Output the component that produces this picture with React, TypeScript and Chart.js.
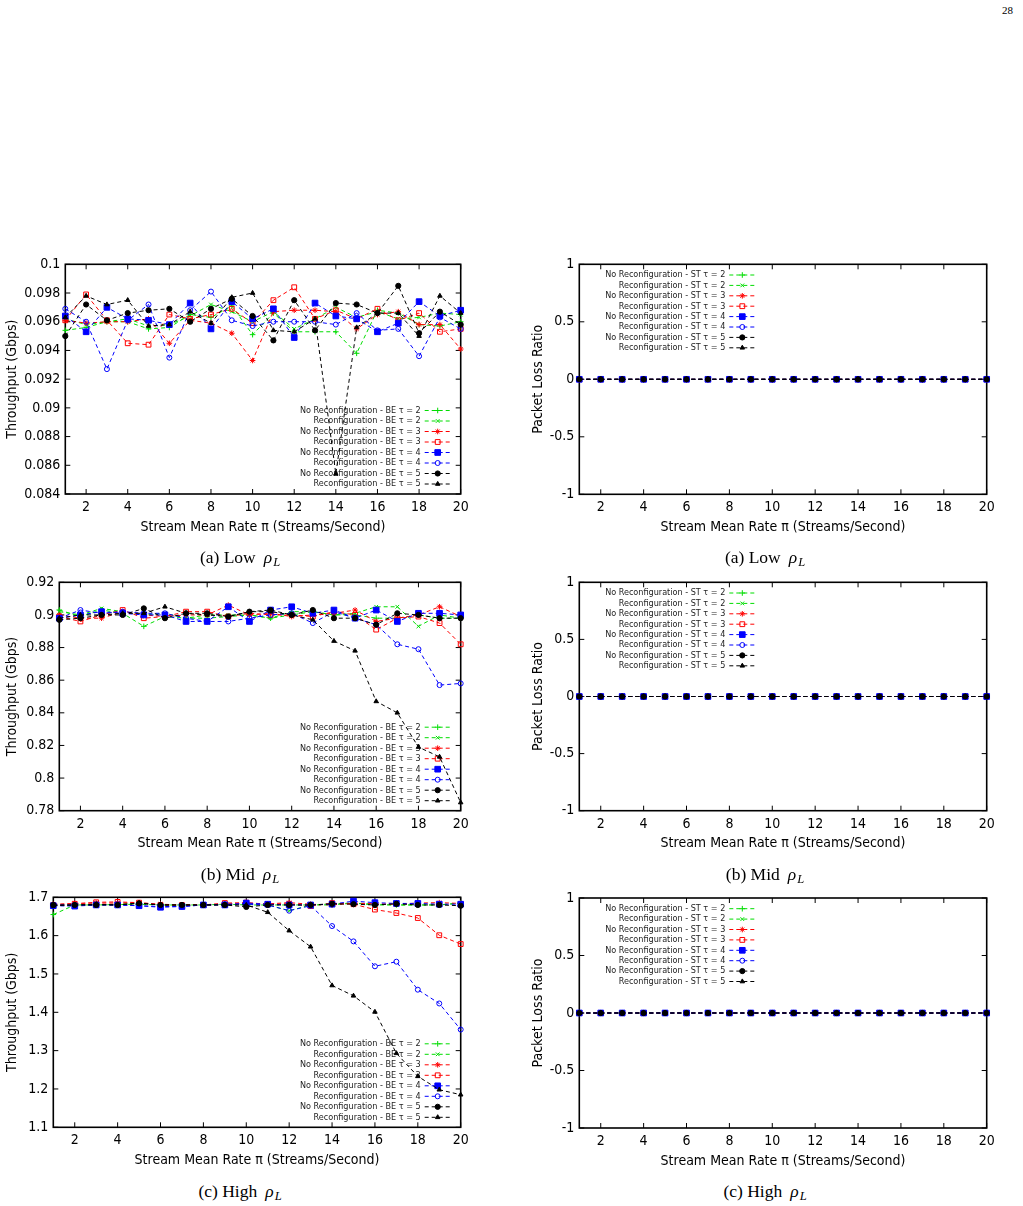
import React, { useEffect, useRef } from "react";
import { Chart, registerables } from "chart.js";
import { drawPoint } from "chart.js/helpers";

Chart.register(...registerables);

const FONT = "'DejaVu Sans Condensed', 'Liberation Sans', sans-serif";

// Stream mean rate (x axis)
const rates = [1, 2, 3, 4, 5, 6, 7, 8, 9, 10, 11, 12, 13, 14, 15, 16, 17, 18, 19, 20];
const xTickValues = [2, 4, 6, 8, 10, 12, 14, 16, 18, 20];
const xTickLabels = ["2", "4", "6", "8", "10", "12", "14", "16", "18", "20"];

// Y axis ticks
const lowYTicks = [0.084, 0.086, 0.088, 0.09, 0.092, 0.094, 0.096, 0.098, 0.1];
const lowYLabels = ["0.084", "0.086", "0.088", "0.09", "0.092", "0.094", "0.096", "0.098", "0.1"];
const midYTicks = [0.78, 0.8, 0.82, 0.84, 0.86, 0.88, 0.9, 0.92];
const midYLabels = ["0.78", "0.8", "0.82", "0.84", "0.86", "0.88", "0.9", "0.92"];
const highYTicks = [1.1, 1.2, 1.3, 1.4, 1.5, 1.6, 1.7];
const highYLabels = ["1.1", "1.2", "1.3", "1.4", "1.5", "1.6", "1.7"];
const lossYTicks = [-1, -0.5, 0, 0.5, 1];
const lossYLabels = ["-1", "-0.5", "0", "0.5", "1"];

// Series names
const beNames = [
  "No Reconfiguration - BE τ = 2",
  "Reconfiguration - BE τ = 2",
  "No Reconfiguration - BE τ = 3",
  "Reconfiguration - BE τ = 3",
  "No Reconfiguration - BE τ = 4",
  "Reconfiguration - BE τ = 4",
  "No Reconfiguration - BE τ = 5",
  "Reconfiguration - BE τ = 5",
];
const stNames = [
  "No Reconfiguration - ST τ = 2",
  "Reconfiguration - ST τ = 2",
  "No Reconfiguration - ST τ = 3",
  "Reconfiguration - ST τ = 3",
  "No Reconfiguration - ST τ = 4",
  "Reconfiguration - ST τ = 4",
  "No Reconfiguration - ST τ = 5",
  "Reconfiguration - ST τ = 5",
];

// Best-effort throughput (Gbps), low load
const lowNoReconf2 = [0.0954, 0.0956, 0.0960, 0.0960, 0.0955, 0.0956, 0.0965, 0.0963, 0.0971, 0.0951, 0.0966, 0.0953, 0.0953, 0.0953, 0.0938, 0.0968, 0.0966, 0.0958, 0.0957, 0.0960];
const lowReconf2 = [0.0962, 0.0958, 0.0960, 0.0962, 0.0957, 0.0958, 0.0964, 0.0972, 0.0967, 0.0960, 0.0967, 0.0955, 0.0962, 0.0970, 0.0963, 0.0967, 0.0962, 0.0963, 0.0966, 0.0965];
const lowNoReconf3 = [0.0961, 0.0959, 0.0960, 0.0960, 0.0962, 0.0945, 0.0961, 0.0959, 0.0952, 0.0933, 0.0967, 0.0968, 0.0968, 0.0967, 0.0955, 0.0965, 0.0967, 0.0958, 0.0958, 0.0941];
const lowReconf3 = [0.0961, 0.0979, 0.0961, 0.0945, 0.0944, 0.0965, 0.0962, 0.0965, 0.0969, 0.0959, 0.0975, 0.0984, 0.0962, 0.0968, 0.0962, 0.0969, 0.0961, 0.0966, 0.0953, 0.0955];
const lowNoReconf4 = [0.0964, 0.0953, 0.0970, 0.0962, 0.0961, 0.0958, 0.0973, 0.0955, 0.0974, 0.0962, 0.0969, 0.0949, 0.0973, 0.0964, 0.0962, 0.0953, 0.0959, 0.0974, 0.0964, 0.0968];
const lowReconf4 = [0.0969, 0.0960, 0.0927, 0.0961, 0.0972, 0.0935, 0.0968, 0.0981, 0.0961, 0.0957, 0.0960, 0.0960, 0.0960, 0.0958, 0.0966, 0.0954, 0.0955, 0.0936, 0.0963, 0.0955];
const lowNoReconf5 = [0.0950, 0.0972, 0.0961, 0.0966, 0.0968, 0.0969, 0.0960, 0.0969, 0.0976, 0.0964, 0.0947, 0.0975, 0.0954, 0.0973, 0.0972, 0.0966, 0.0985, 0.0952, 0.0967, 0.0958];
const lowReconf5 = [0.0963, 0.0978, 0.0972, 0.0975, 0.0957, 0.0958, 0.0967, 0.0959, 0.0977, 0.0980, 0.0954, 0.0953, 0.0962, 0.0854, 0.0956, 0.0966, 0.0966, 0.0950, 0.0978, 0.0966];

// Best-effort throughput (Gbps), mid load
const midNoReconf2 = [0.903, 0.899, 0.903, 0.901, 0.893, 0.899, 0.898, 0.898, 0.899, 0.900, 0.898, 0.902, 0.902, 0.900, 0.900, 0.898, 0.898, 0.900, 0.898, 0.898];
const midReconf2 = [0.902, 0.900, 0.904, 0.902, 0.900, 0.901, 0.898, 0.900, 0.900, 0.900, 0.898, 0.900, 0.902, 0.900, 0.901, 0.905, 0.905, 0.893, 0.900, 0.898];
const midNoReconf3 = [0.900, 0.898, 0.898, 0.902, 0.900, 0.899, 0.900, 0.900, 0.906, 0.900, 0.901, 0.899, 0.900, 0.901, 0.903, 0.896, 0.898, 0.900, 0.905, 0.899];
const midReconf3 = [0.899, 0.896, 0.900, 0.903, 0.898, 0.899, 0.902, 0.902, 0.899, 0.901, 0.900, 0.900, 0.899, 0.902, 0.900, 0.891, 0.898, 0.899, 0.895, 0.882];
const midNoReconf4 = [0.898, 0.900, 0.902, 0.901, 0.900, 0.900, 0.896, 0.896, 0.905, 0.896, 0.903, 0.905, 0.901, 0.903, 0.898, 0.903, 0.896, 0.901, 0.901, 0.900];
const midReconf4 = [0.898, 0.903, 0.901, 0.902, 0.901, 0.901, 0.898, 0.896, 0.896, 0.898, 0.900, 0.901, 0.895, 0.902, 0.898, 0.894, 0.882, 0.879, 0.857, 0.858];
const midNoReconf5 = [0.897, 0.898, 0.900, 0.900, 0.904, 0.898, 0.901, 0.901, 0.899, 0.902, 0.903, 0.900, 0.903, 0.898, 0.898, 0.894, 0.901, 0.900, 0.898, 0.898];
const midReconf5 = [0.898, 0.900, 0.900, 0.901, 0.901, 0.905, 0.901, 0.900, 0.899, 0.902, 0.902, 0.900, 0.897, 0.884, 0.878, 0.847, 0.840, 0.819, 0.813, 0.785];

// Best-effort throughput (Gbps), high load
const highNoReconf2 = [1.655, 1.680, 1.680, 1.681, 1.682, 1.680, 1.680, 1.680, 1.682, 1.680, 1.680, 1.680, 1.680, 1.680, 1.685, 1.680, 1.680, 1.680, 1.680, 1.685];
const highReconf2 = [1.678, 1.680, 1.680, 1.682, 1.685, 1.680, 1.678, 1.680, 1.682, 1.683, 1.680, 1.665, 1.680, 1.683, 1.685, 1.682, 1.680, 1.680, 1.680, 1.685];
const highNoReconf3 = [1.682, 1.684, 1.685, 1.685, 1.686, 1.682, 1.680, 1.680, 1.682, 1.685, 1.683, 1.686, 1.682, 1.680, 1.685, 1.683, 1.682, 1.685, 1.686, 1.684];
const highReconf3 = [1.680, 1.683, 1.687, 1.688, 1.686, 1.680, 1.680, 1.680, 1.685, 1.686, 1.682, 1.683, 1.677, 1.685, 1.682, 1.668, 1.659, 1.646, 1.601, 1.578];
const highNoReconf4 = [1.678, 1.677, 1.680, 1.680, 1.678, 1.674, 1.676, 1.680, 1.680, 1.685, 1.682, 1.680, 1.680, 1.682, 1.690, 1.686, 1.684, 1.684, 1.682, 1.682];
const highReconf4 = [1.680, 1.680, 1.680, 1.680, 1.678, 1.676, 1.676, 1.680, 1.682, 1.682, 1.680, 1.665, 1.678, 1.625, 1.585, 1.520, 1.532, 1.459, 1.423, 1.355];
const highNoReconf5 = [1.680, 1.680, 1.680, 1.680, 1.684, 1.680, 1.680, 1.680, 1.680, 1.675, 1.680, 1.680, 1.680, 1.683, 1.682, 1.680, 1.683, 1.680, 1.680, 1.678];
const highReconf5 = [1.678, 1.680, 1.682, 1.680, 1.685, 1.680, 1.680, 1.680, 1.680, 1.680, 1.661, 1.613, 1.571, 1.470, 1.443, 1.401, 1.293, 1.233, 1.198, 1.185];

// Streaming packet loss ratio, low load
const lossLowNoReconf2 = [0, 0, 0, 0, 0, 0, 0, 0, 0, 0, 0, 0, 0, 0, 0, 0, 0, 0, 0, 0];
const lossLowReconf2 = [0, 0, 0, 0, 0, 0, 0, 0, 0, 0, 0, 0, 0, 0, 0, 0, 0, 0, 0, 0];
const lossLowNoReconf3 = [0, 0, 0, 0, 0, 0, 0, 0, 0, 0, 0, 0, 0, 0, 0, 0, 0, 0, 0, 0];
const lossLowReconf3 = [0, 0, 0, 0, 0, 0, 0, 0, 0, 0, 0, 0, 0, 0, 0, 0, 0, 0, 0, 0];
const lossLowNoReconf4 = [0, 0, 0, 0, 0, 0, 0, 0, 0, 0, 0, 0, 0, 0, 0, 0, 0, 0, 0, 0];
const lossLowReconf4 = [0, 0, 0, 0, 0, 0, 0, 0, 0, 0, 0, 0, 0, 0, 0, 0, 0, 0, 0, 0];
const lossLowNoReconf5 = [0, 0, 0, 0, 0, 0, 0, 0, 0, 0, 0, 0, 0, 0, 0, 0, 0, 0, 0, 0];
const lossLowReconf5 = [0, 0, 0, 0, 0, 0, 0, 0, 0, 0, 0, 0, 0, 0, 0, 0, 0, 0, 0, 0];

// Streaming packet loss ratio, mid load
const lossMidNoReconf2 = [0, 0, 0, 0, 0, 0, 0, 0, 0, 0, 0, 0, 0, 0, 0, 0, 0, 0, 0, 0];
const lossMidReconf2 = [0, 0, 0, 0, 0, 0, 0, 0, 0, 0, 0, 0, 0, 0, 0, 0, 0, 0, 0, 0];
const lossMidNoReconf3 = [0, 0, 0, 0, 0, 0, 0, 0, 0, 0, 0, 0, 0, 0, 0, 0, 0, 0, 0, 0];
const lossMidReconf3 = [0, 0, 0, 0, 0, 0, 0, 0, 0, 0, 0, 0, 0, 0, 0, 0, 0, 0, 0, 0];
const lossMidNoReconf4 = [0, 0, 0, 0, 0, 0, 0, 0, 0, 0, 0, 0, 0, 0, 0, 0, 0, 0, 0, 0];
const lossMidReconf4 = [0, 0, 0, 0, 0, 0, 0, 0, 0, 0, 0, 0, 0, 0, 0, 0, 0, 0, 0, 0];
const lossMidNoReconf5 = [0, 0, 0, 0, 0, 0, 0, 0, 0, 0, 0, 0, 0, 0, 0, 0, 0, 0, 0, 0];
const lossMidReconf5 = [0, 0, 0, 0, 0, 0, 0, 0, 0, 0, 0, 0, 0, 0, 0, 0, 0, 0, 0, 0];

// Streaming packet loss ratio, high load
const lossHighNoReconf2 = [0, 0, 0, 0, 0, 0, 0, 0, 0, 0, 0, 0, 0, 0, 0, 0, 0, 0, 0, 0];
const lossHighReconf2 = [0, 0, 0, 0, 0, 0, 0, 0, 0, 0, 0, 0, 0, 0, 0, 0, 0, 0, 0, 0];
const lossHighNoReconf3 = [0, 0, 0, 0, 0, 0, 0, 0, 0, 0, 0, 0, 0, 0, 0, 0, 0, 0, 0, 0];
const lossHighReconf3 = [0, 0, 0, 0, 0, 0, 0, 0, 0, 0, 0, 0, 0, 0, 0, 0, 0, 0, 0, 0];
const lossHighNoReconf4 = [0, 0, 0, 0, 0, 0, 0, 0, 0, 0, 0, 0, 0, 0, 0, 0, 0, 0, 0, 0];
const lossHighReconf4 = [0, 0, 0, 0, 0, 0, 0, 0, 0, 0, 0, 0, 0, 0, 0, 0, 0, 0, 0, 0];
const lossHighNoReconf5 = [0, 0, 0, 0, 0, 0, 0, 0, 0, 0, 0, 0, 0, 0, 0, 0, 0, 0, 0, 0];
const lossHighReconf5 = [0, 0, 0, 0, 0, 0, 0, 0, 0, 0, 0, 0, 0, 0, 0, 0, 0, 0, 0, 0];

// Line/marker style for each of the eight series (same order as the names)
const seriesStyles = [
  { color: "#00dd00", pointStyle: "cross", filled: false, radius: 2.8 },
  { color: "#00dd00", pointStyle: "crossRot", filled: false, radius: 2.6 },
  { color: "#ff0000", pointStyle: "star", filled: false, radius: 2.8 },
  { color: "#ff0000", pointStyle: "rect", filled: false, radius: 3.4 },
  { color: "#0000ff", pointStyle: "rect", filled: true, radius: 4 },
  { color: "#0000ff", pointStyle: "circle", filled: false, radius: 2.5 },
  { color: "#000000", pointStyle: "circle", filled: true, radius: 2.6 },
  { color: "#000000", pointStyle: "triangle", filled: true, radius: 2.6 },
];

const DASH = [4, 3];
const X_AXIS_H = 41.5;
const X_TITLE = "Stream Mean Rate π (Streams/Second)";

type PlotRect = { L: number; T: number; R: number; B: number };
type PanelDef = {
  plot: PlotRect;
  side: "left" | "right";
  yMin: number;
  yMax: number;
  yTicks: number[];
  yLabels: string[];
  yTitle: string;
  series: number[][];
  names: string[];
  key: "br" | "tl";
};

const panels: PanelDef[] = [
  {
    plot: { L: 65.3, T: 264.3, R: 460.7, B: 494 },
    side: "left", yMin: 0.084, yMax: 0.1, yTicks: lowYTicks, yLabels: lowYLabels,
    yTitle: "Throughput (Gbps)",
    series: [lowNoReconf2, lowReconf2, lowNoReconf3, lowReconf3, lowNoReconf4, lowReconf4, lowNoReconf5, lowReconf5],
    names: beNames, key: "br",
  },
  {
    plot: { L: 579.3, T: 264.3, R: 986.7, B: 494.3 },
    side: "right", yMin: -1, yMax: 1, yTicks: lossYTicks, yLabels: lossYLabels,
    yTitle: "Packet Loss Ratio",
    series: [lossLowNoReconf2, lossLowReconf2, lossLowNoReconf3, lossLowReconf3, lossLowNoReconf4, lossLowReconf4, lossLowNoReconf5, lossLowReconf5],
    names: stNames, key: "tl",
  },
  {
    plot: { L: 59.3, T: 582.3, R: 460.7, B: 810.7 },
    side: "left", yMin: 0.78, yMax: 0.92, yTicks: midYTicks, yLabels: midYLabels,
    yTitle: "Throughput (Gbps)",
    series: [midNoReconf2, midReconf2, midNoReconf3, midReconf3, midNoReconf4, midReconf4, midNoReconf5, midReconf5],
    names: beNames, key: "br",
  },
  {
    plot: { L: 579.3, T: 582.3, R: 986.7, B: 810.7 },
    side: "right", yMin: -1, yMax: 1, yTicks: lossYTicks, yLabels: lossYLabels,
    yTitle: "Packet Loss Ratio",
    series: [lossMidNoReconf2, lossMidReconf2, lossMidNoReconf3, lossMidReconf3, lossMidNoReconf4, lossMidReconf4, lossMidNoReconf5, lossMidReconf5],
    names: stNames, key: "tl",
  },
  {
    plot: { L: 53.3, T: 897.3, R: 460.7, B: 1127.3 },
    side: "left", yMin: 1.1, yMax: 1.7, yTicks: highYTicks, yLabels: highYLabels,
    yTitle: "Throughput (Gbps)",
    series: [highNoReconf2, highReconf2, highNoReconf3, highReconf3, highNoReconf4, highReconf4, highNoReconf5, highReconf5],
    names: beNames, key: "br",
  },
  {
    plot: { L: 579.3, T: 898, R: 986.7, B: 1128 },
    side: "right", yMin: -1, yMax: 1, yTicks: lossYTicks, yLabels: lossYLabels,
    yTitle: "Packet Loss Ratio",
    series: [lossHighNoReconf2, lossHighReconf2, lossHighNoReconf3, lossHighReconf3, lossHighNoReconf4, lossHighReconf4, lossHighNoReconf5, lossHighReconf5],
    names: stNames, key: "tl",
  },
];

const captions = [
  { tag: "(a) Low", cx: 240, cy: 557 },
  { tag: "(a) Low", cx: 765, cy: 557 },
  { tag: "(b) Mid", cx: 240, cy: 874 },
  { tag: "(b) Mid", cx: 765, cy: 874 },
  { tag: "(c) High", cx: 240, cy: 1191 },
  { tag: "(c) High", cx: 765, cy: 1191 },
];

// Box around the plot area with inward ticks on all four sides
const frameTicks = {
  id: "frameTicks",
  beforeDatasetsDraw(chart: any) {
    const { ctx, chartArea } = chart;
    const { left, top, right, bottom } = chartArea;
    const xs = chart.scales.x;
    const ys = chart.scales.y;
    ctx.save();
    ctx.strokeStyle = "#000";
    ctx.lineWidth = 1;
    ctx.beginPath();
    xs.ticks.forEach((t: any) => {
      const px = xs.getPixelForValue(t.value);
      ctx.moveTo(px, bottom);
      ctx.lineTo(px, bottom - 5);
      ctx.moveTo(px, top);
      ctx.lineTo(px, top + 5);
    });
    ys.ticks.forEach((t: any) => {
      const py = ys.getPixelForValue(t.value);
      ctx.moveTo(left, py);
      ctx.lineTo(left + 5, py);
      ctx.moveTo(right, py);
      ctx.lineTo(right - 5, py);
    });
    ctx.stroke();
    ctx.lineWidth = 1.6;
    ctx.strokeRect(left, top, right - left, bottom - top);
    ctx.restore();
  },
};

// Key: right-aligned names followed by a dashed sample with its marker
function makeKey(names: string[], anchor: "br" | "tl") {
  return {
    id: "seriesKey",
    beforeDatasetsDraw(chart: any) {
      const { ctx, chartArea } = chart;
      const { left, top, right, bottom } = chartArea;
      const n = names.length;
      ctx.save();
      ctx.font = `9px ${FONT}`;
      ctx.textAlign = "right";
      ctx.textBaseline = "middle";
      names.forEach((name, i) => {
        const y = anchor === "br" ? bottom - 10 - (n - 1 - i) * 10.5 : top + 10.7 + i * 10.4;
        const textRight = anchor === "br" ? right - 40 : left + 146;
        ctx.fillStyle = "#222";
        ctx.fillText(name, textRight, y);
        const st = seriesStyles[i];
        ctx.strokeStyle = st.color;
        ctx.lineWidth = 1;
        ctx.setLineDash(DASH);
        ctx.beginPath();
        ctx.moveTo(textRight + 4, y);
        ctx.lineTo(textRight + 30, y);
        ctx.stroke();
        ctx.setLineDash([]);
        ctx.fillStyle = st.filled ? st.color : "rgba(0,0,0,0)";
        drawPoint(ctx, { pointStyle: st.pointStyle as any, radius: st.radius, rotation: 0, borderWidth: 1 } as any, textRight + 17, y);
      });
      ctx.restore();
    },
  };
}

function ChartPanel({ def }: { def: PanelDef }) {
  const ref = useRef<HTMLCanvasElement | null>(null);
  const { plot } = def;
  const x0 = def.side === "left" ? 0 : 526;
  const x1 = def.side === "left" ? 482 : 1008;
  const y0 = Math.floor(plot.T) - 14;
  const y1 = Math.ceil(plot.B) + 46;
  const w = x1 - x0;
  const h = y1 - y0;

  useEffect(() => {
    if (!ref.current) return;
    const tickFont = { family: FONT, size: 14 };
    const datasets = def.series.map((vals, i) => {
      const st = seriesStyles[i];
      const fill = st.filled ? st.color : "rgba(0,0,0,0)";
      return {
        label: def.names[i],
        data: vals.map((v, k) => ({ x: rates[k], y: v })),
        borderColor: st.color,
        backgroundColor: fill,
        borderWidth: 1,
        borderDash: DASH,
        pointStyle: st.pointStyle as any,
        pointRadius: st.radius,
        pointBorderWidth: 1,
        pointBorderColor: st.color,
        pointBackgroundColor: fill,
        tension: 0,
        fill: false,
        clip: false as any,
        order: def.series.length - i,
      };
    });

    const chart = new Chart(ref.current, {
      type: "line",
      data: { datasets },
      options: {
        animation: false,
        responsive: false,
        maintainAspectRatio: false,
        events: [],
        layout: {
          padding: {
            left: 0,
            top: plot.T - y0,
            right: x1 - plot.R,
            bottom: y1 - plot.B - X_AXIS_H,
          },
        },
        plugins: {
          legend: { display: false },
          tooltip: { enabled: false },
        },
        scales: {
          x: {
            type: "linear",
            min: 1,
            max: 20,
            afterBuildTicks: (s: any) => {
              s.ticks = xTickValues.map((v) => ({ value: v }));
            },
            afterFit: (s: any) => {
              s.height = X_AXIS_H;
            },
            grid: { display: false, drawTicks: false },
            border: { display: false },
            ticks: {
              padding: 5,
              color: "#000",
              font: tickFont,
              maxRotation: 0,
              autoSkip: false,
              callback: (_v: any, i: number) => xTickLabels[i],
            },
            title: {
              display: true,
              text: X_TITLE,
              color: "#000",
              font: tickFont,
              padding: { top: 0, bottom: 0 },
            },
          },
          y: {
            type: "linear",
            min: def.yMin,
            max: def.yMax,
            afterBuildTicks: (s: any) => {
              s.ticks = def.yTicks.map((v) => ({ value: v }));
            },
            afterFit: (s: any) => {
              s.width = plot.L - x0;
            },
            grid: { display: false, drawTicks: false },
            border: { display: false },
            ticks: {
              padding: 5,
              color: "#000",
              font: tickFont,
              callback: (_v: any, i: number) => def.yLabels[i],
            },
            title: {
              display: true,
              text: def.yTitle,
              color: "#000",
              font: tickFont,
              padding: { top: 4, bottom: 0 },
            },
          },
        },
      } as any,
      plugins: [frameTicks, makeKey(def.names, def.key)],
    });
    return () => chart.destroy();
  }, []);

  return (
    <canvas
      ref={ref}
      width={w}
      height={h}
      style={{ position: "absolute", left: x0, top: y0, width: w, height: h }}
    />
  );
}

export default function App() {
  return (
    <div
      style={{
        position: "absolute",
        left: 0,
        top: 0,
        width: 1023,
        height: 1206,
        background: "#fff",
        overflow: "hidden",
      }}
    >
      <div
        style={{
          position: "absolute",
          left: 960,
          top: 3,
          width: 53,
          textAlign: "right",
          font: "11px 'Liberation Serif', serif",
          lineHeight: "14px",
        }}
      >
        28
      </div>
      {panels.map((p, i) => (
        <ChartPanel key={i} def={p} />
      ))}
      {captions.map((c, i) => (
        <div
          key={"c" + i}
          style={{
            position: "absolute",
            left: c.cx - 110,
            top: c.cy - 11,
            width: 220,
            textAlign: "center",
            font: "17.5px 'Liberation Serif', serif",
            lineHeight: "22px",
            whiteSpace: "nowrap",
          }}
        >
          {c.tag}
          <span style={{ marginLeft: 8 }}>
            <i>ρ</i>
            <i style={{ fontSize: 12.5, position: "relative", top: 3, marginLeft: 1 }}>L</i>
          </span>
        </div>
      ))}
    </div>
  );
}
